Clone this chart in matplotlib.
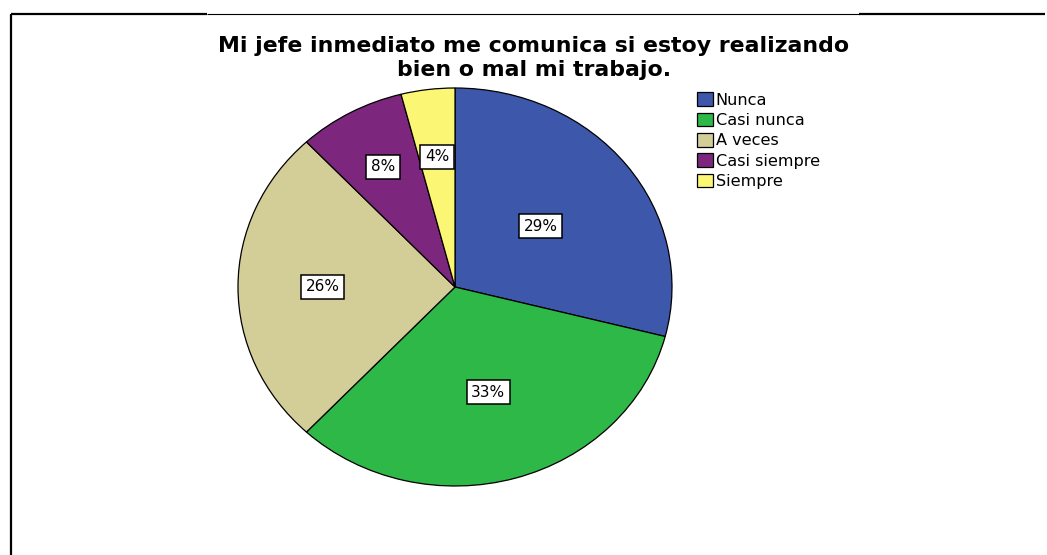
import numpy as np
import matplotlib.pyplot as plt
from matplotlib.patches import Patch
from matplotlib.lines import Line2D

plt.rcParams['font.family'] = ['DejaVu Sans']

categorias = ['Nunca', 'Casi nunca', 'A veces', 'Casi siempre', 'Siempre']
porcentajes = [29, 33, 26, 8, 4]
colores = ['#3d57ab', '#2eb847', '#d3cd97', '#7c277d', '#fbf774']
titulo = 'Mi jefe inmediato me comunica si estoy realizando\nbien o mal mi trabajo.'

# distance of each percent box from the centre (fraction of radius)
dist_etiqueta = [0.50, 0.55, 0.61, 0.69, 0.66]

W, H = 1047, 555
fig = plt.figure(figsize=(W / 100, H / 100), dpi=100)

# pie drawn slightly wider than tall
cx, cy, rx, ry = 455, 287, 217, 199
ax = fig.add_axes([(cx - rx) / W, (H - cy - ry) / H, 2 * rx / W, 2 * ry / H])
wedges, _ = ax.pie(porcentajes, colors=colores, startangle=90, counterclock=False,
                   wedgeprops=dict(edgecolor='black', linewidth=0.9))
ax.set_aspect('auto')
ax.set_xlim(-1, 1)
ax.set_ylim(-1, 1)

for w, p, r in zip(wedges, porcentajes, dist_etiqueta):
    ang = np.deg2rad((w.theta1 + w.theta2) / 2)
    ax.text(r * np.cos(ang), r * np.sin(ang), f'{p}%', ha='center', va='center',
            fontsize=11,
            bbox=dict(boxstyle='square,pad=0.3', facecolor='white',
                      edgecolor='black', linewidth=1.1))

fig.text(534 / W, 1 - 36 / H, titulo, ha='center', va='top', fontsize=15.8,
         fontweight='bold', linespacing=1.22)

handles = [Patch(facecolor=c, edgecolor='black', linewidth=0.9) for c in colores]
fig.legend(handles, categorias, loc='upper left', bbox_to_anchor=(694 / W, 1 - 89 / H),
           frameon=False, fontsize=11.6, handlelength=0.95, handleheight=0.95,
           handletextpad=0.2, labelspacing=0.3, borderpad=0.2, borderaxespad=0)

# frame lines
def px_line(x0, y0, x1, y1, lw):
    fig.add_artist(Line2D([x0 / W, x1 / W], [1 - y0 / H, 1 - y1 / H],
                          transform=fig.transFigure, color='black', linewidth=lw,
                          solid_capstyle='butt'))

px_line(11, 14, 207, 14, 1.6)
px_line(207, 14, 859, 14, 0.8)
px_line(859, 14, 1045, 14, 1.6)
px_line(11, 13.5, 11, 555, 1.6)

fig.savefig('out.png', dpi=100)
